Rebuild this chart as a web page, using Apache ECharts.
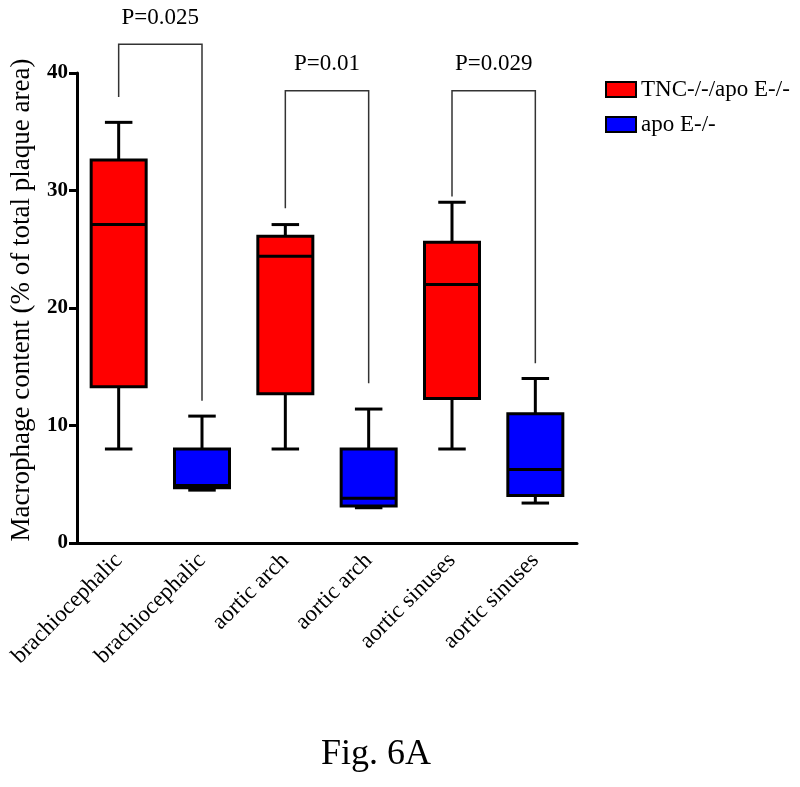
<!DOCTYPE html>
<html>
<head>
<meta charset="utf-8">
<script src="https://cdn.jsdelivr.net/npm/echarts@6/dist/echarts.min.js"></script>
<style>html,body{margin:0;padding:0;background:#fff;}#chart{width:800px;height:787px;}</style>
</head>
<body>
<div id="chart"></div>
<script>
const categories = ['brachiocephalic', 'brachiocephalic', 'aortic arch', 'aortic arch', 'aortic sinuses', 'aortic sinuses'];
const yTicks = [0, 10, 20, 30, 40];
// [categoryIndex, min, Q1, median, Q3, max]
const tncBoxes = [
  [0, 8.0, 13.3, 27.1, 32.6, 35.8],
  [2, 8.0, 12.7, 24.4, 26.1, 27.1],
  [4, 8.0, 12.3, 22.0, 25.6, 29.0]
];
const apoeBoxes = [
  [1, 4.5, 4.7, 4.9, 8.0, 10.8],
  [3, 3.0, 3.15, 3.8, 8.0, 11.4],
  [5, 3.4, 4.05, 6.25, 11.0, 14.0]
];
// [leftIndex, rightIndex, topValue, leftLegBottom, rightLegBottom]
const brackets = [
  [0, 1, 42.45, 37.95, 12.1],
  [2, 3, 38.5, 28.5, 13.6],
  [4, 5, 38.5, 29.5, 15.3]
];
const pLabels = ['P=0.025', 'P=0.01', 'P=0.029'];
const seriesNames = ['TNC-/-/apo E-/-', 'apo E-/-'];
const seriesColors = ['#ff0000', '#0000ff'];

const FONT = '"Liberation Serif", "Times New Roman", serif';

function makeBoxRenderer(color) {
  return function (params, api) {
    const x = api.value(0);
    const mn = api.coord([x, api.value(1)]);
    const q1 = api.coord([x, api.value(2)]);
    const md = api.coord([x, api.value(3)]);
    const q3 = api.coord([x, api.value(4)]);
    const mx = api.coord([x, api.value(5)]);
    const band = api.size([1, 0])[0];
    const bw = band * 0.66;
    const cw = bw * 0.5;
    const cx = mn[0];
    const line = { stroke: '#000', lineWidth: 3 };
    return {
      type: 'group',
      children: [
        { type: 'line', shape: { x1: cx, y1: q3[1], x2: cx, y2: mx[1] }, style: line },
        { type: 'line', shape: { x1: cx, y1: q1[1], x2: cx, y2: mn[1] }, style: line },
        { type: 'line', shape: { x1: cx - cw / 2, y1: mx[1], x2: cx + cw / 2, y2: mx[1] }, style: line },
        { type: 'line', shape: { x1: cx - cw / 2, y1: mn[1], x2: cx + cw / 2, y2: mn[1] }, style: line },
        { type: 'rect', shape: { x: cx - bw / 2, y: q3[1], width: bw, height: q1[1] - q3[1] },
          style: { fill: color, stroke: '#000', lineWidth: 3 } },
        { type: 'line', shape: { x1: cx - bw / 2, y1: md[1], x2: cx + bw / 2, y2: md[1] }, style: line }
      ]
    };
  };
}

function renderBracket(params, api) {
  const l = api.value(0), r = api.value(1);
  const top = api.value(2);
  const lt = api.coord([l, top]);
  const rt = api.coord([r, top]);
  const lb = api.coord([l, api.value(3)]);
  const rb = api.coord([r, api.value(4)]);
  return {
    type: 'group',
    children: [
      { type: 'polyline', shape: { points: [lb, lt, rt, rb] },
        style: { stroke: '#333', lineWidth: 1.5, fill: null } },
      { type: 'text', x: (lt[0] + rt[0]) / 2, y: lt[1] - 15,
        style: { text: pLabels[params.dataIndex], fill: '#000', font: '23px ' + FONT,
                 align: 'center', verticalAlign: 'bottom' } }
    ]
  };
}

const chart = echarts.init(document.getElementById('chart'), null, { renderer: 'canvas' });
chart.setOption({
  animation: false,
  backgroundColor: '#fff',
  title: {
    text: 'Fig. 6A', left: 371, top: 732, textAlign: 'center',
    textStyle: { fontFamily: FONT, fontSize: 36, fontWeight: 'normal', color: '#000' }
  },
  legend: {
    data: seriesNames, orient: 'vertical', left: 605, top: 78, padding: 0,
    icon: 'rect', itemWidth: 30, itemHeight: 15, itemGap: 12,
    itemStyle: { borderColor: '#000', borderWidth: 2 },
    textStyle: { fontFamily: FONT, fontSize: 23, color: '#000' }
  },
  grid: { left: 77, right: 223, top: 73, bottom: 244, containLabel: false },
  xAxis: {
    type: 'category', data: categories, boundaryGap: true,
    axisLine: { lineStyle: { color: '#000', width: 3 } },
    axisTick: { show: false },
    axisLabel: { rotate: 45, margin: 14, fontFamily: FONT, fontSize: 23, color: '#000', interval: 0 }
  },
  yAxis: {
    type: 'value', min: yTicks[0], max: yTicks[yTicks.length - 1], interval: 10,
    name: 'Macrophage content (% of total plaque area)', nameLocation: 'middle', nameGap: 42,
    nameTextStyle: { fontFamily: FONT, fontSize: 27, color: '#000', padding: [0, 0, 0, 16] },
    axisLine: { show: true, lineStyle: { color: '#000', width: 3 } },
    axisTick: { show: true, length: 8, lineStyle: { color: '#000', width: 3 } },
    splitLine: { show: false },
    axisLabel: { margin: 9, fontFamily: FONT, fontSize: 21, fontWeight: 'bold', color: '#000' }
  },
  series: [
    { type: 'custom', name: seriesNames[0], data: tncBoxes, renderItem: makeBoxRenderer(seriesColors[0]),
      itemStyle: { color: seriesColors[0] }, encode: { x: 0, y: [1, 2, 3, 4, 5] }, clip: false },
    { type: 'custom', name: seriesNames[1], data: apoeBoxes, renderItem: makeBoxRenderer(seriesColors[1]),
      itemStyle: { color: seriesColors[1] }, encode: { x: 0, y: [1, 2, 3, 4, 5] }, clip: false },
    { type: 'custom', name: 'brackets', data: brackets, renderItem: renderBracket,
      encode: { x: [0, 1], y: [2, 3, 4] }, clip: false, silent: true }
  ]
});
</script>
</body>
</html>
